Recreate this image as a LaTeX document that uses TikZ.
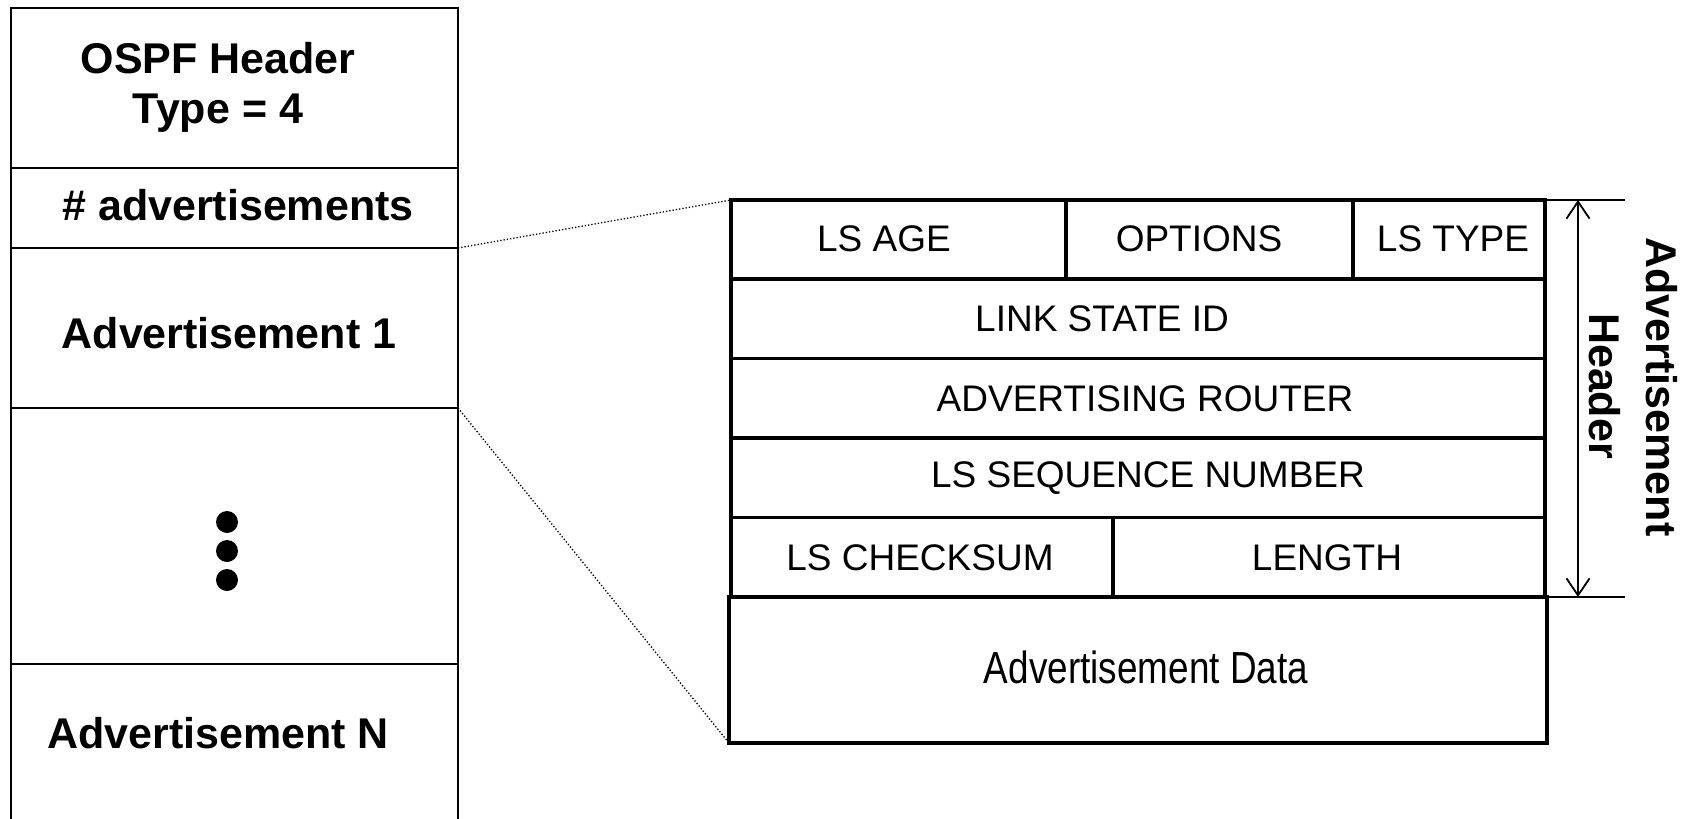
\documentclass[tikz,border=0pt]{standalone}
\usepackage{fontspec}
\setmainfont{Liberation Sans}
\usetikzlibrary{arrows.meta}
\begin{document}
\begin{tikzpicture}[x=1pt,y=-1pt,
  lcell/.style={draw, line width=2.6pt, rectangle, inner sep=0pt, outer sep=0pt, anchor=north west},
  hcell/.style={draw, line width=3.2pt, rectangle, inner sep=0pt, outer sep=0pt, anchor=north west},
  bigtxt/.style={font=\fontsize{43}{50}\selectfont\bfseries, inner sep=0pt, align=center},
  ftxt/.style={font=\fontsize{37}{44}\selectfont, inner sep=0pt},
  rottxt/.style={font=\fontsize{43}{50}\selectfont\bfseries, inner sep=0pt, rotate=-90},
  zoomline/.style={line width=1.3pt, dash pattern=on 1.3pt off 2pt},
  extline/.style={line width=2pt},
  dimarrow/.style={line width=1.8pt, {Straight Barb[length=17pt,width=23pt]}-{Straight Barb[length=17pt,width=23pt]}},
]
\useasboundingbox (0,0) rectangle (1695,819);
\fill[white] (0,0) rectangle (1695,819);

% left column
\node[lcell, minimum width=447pt, minimum height=160pt] (ospf) at (11,8) {};
\node[lcell, minimum width=447pt, minimum height=80pt] (cnt) at (11,168) {};
\node[lcell, minimum width=447pt, minimum height=160pt] (adv1) at (11,248) {};
\node[lcell, minimum width=447pt, minimum height=256pt] (more) at (11,408) {};
\coordinate (bl) at (11,819);
\coordinate (br) at (458,819);
\draw[line width=2.6pt] (more.south west) -- (bl);
\draw[line width=2.6pt] (more.south east) -- (br);

\node[bigtxt] (tospf) at (218,87) {OSPF Header\\Type = 4};
\node[bigtxt] (tcnt) at (238,205) {\# advertisements};
\node[bigtxt] (tadv1) at (229,333) {Advertisement 1};
\fill (227,522) circle (11pt);
\fill (227,551) circle (11pt);
\fill (227,580) circle (11pt);
\node[bigtxt] (tadvn) at (218,733) {Advertisement N};

% advertisement header
\node[hcell, minimum width=335pt, minimum height=79pt] (age) at (731,200) {};
\node[hcell, minimum width=287pt, minimum height=79pt] (opt) at (1066,200) {};
\node[hcell, minimum width=192pt, minimum height=79pt] (ltype) at (1353,200) {};
\node[hcell, minimum width=814pt, minimum height=79.5pt] (lsid) at (731,279) {};
\node[hcell, minimum width=814pt, minimum height=79.5pt] (advr) at (731,358.5) {};
\node[hcell, minimum width=814pt, minimum height=79.5pt] (seq) at (731,438) {};
\node[hcell, minimum width=382pt, minimum height=79.5pt] (cks) at (731,517.5) {};
\node[hcell, minimum width=432pt, minimum height=79.5pt] (len) at (1113,517.5) {};
\node[hcell, line width=3.5pt, minimum width=818pt, minimum height=146pt] (data) at (729,597) {};

\node[ftxt] (tage) at (884,239) {LS AGE};
\node[ftxt] (topt) at (1199,239) {OPTIONS};
\node[ftxt] (ttype) at (1453,239) {LS TYPE};
\node[ftxt] (tlsid) at (1102,319) {LINK STATE ID};
\node[ftxt] (tadvr) at (1145,399) {ADVERTISING ROUTER};
\node[ftxt] (tseq) at (1148,478) {LS SEQUENCE NUMBER};
\node[ftxt] (tcks) at (920,558) {LS CHECKSUM};
\node[ftxt] (tlen) at (1327,558) {LENGTH};
\node[font=\fontsize{45}{50}\selectfont, inner sep=0pt] (tdata) at (1146,667) {\scalebox{0.82}[1]{Advertisement Data}};

% zoom lines
\draw[zoomline] (cnt.south east) -- (age.north west);
\draw[zoomline] (adv1.south east) -- (data.south west);

% dimension
\coordinate (e1) at (1625,200);
\coordinate (e2) at (1625,597);
\coordinate (a1) at (1578,200);
\coordinate (a2) at (1578,597);
\draw[extline] (ltype.north east) -- (e1);
\draw[extline] (len.south east) -- (e2);
\draw[dimarrow] (a1) -- (a2);
\node[rottxt] (hadv) at (1662,387) {Advertisement};
\node[rottxt] (hhdr) at (1605,386) {Header};
\end{tikzpicture}
\end{document}
